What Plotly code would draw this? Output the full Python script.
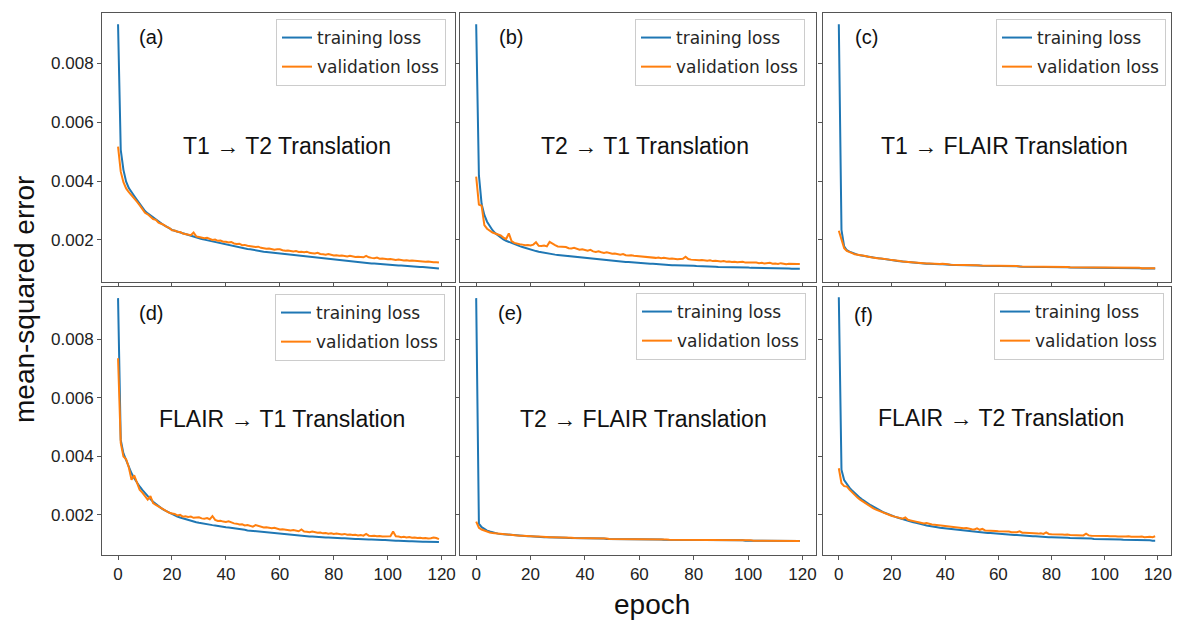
import plotly.graph_objects as go

epochs = list(range(120))

# ---- (a) T1 -> T2 ----
a_train = [
    0.00933, 0.00506, 0.00438, 0.00398, 0.00376, 0.00361, 0.00349, 0.00336, 0.00323, 0.00310,
    0.00298, 0.00290, 0.00283, 0.00275, 0.00268, 0.00262, 0.00256, 0.00250, 0.00245, 0.00239,
    0.00234, 0.00231, 0.00228, 0.00225, 0.00222, 0.00219, 0.00216, 0.00213, 0.00211, 0.00208,
    0.00206, 0.00203, 0.00201, 0.00199, 0.00197, 0.00194, 0.00192, 0.00190, 0.00188, 0.00185,
    0.00183, 0.00181, 0.00179, 0.00178, 0.00176, 0.00174, 0.00172, 0.00171, 0.00169, 0.00168,
    0.00166, 0.00165, 0.00163, 0.00162, 0.00160, 0.00159, 0.00158, 0.00156, 0.00155, 0.00154,
    0.00152, 0.00151, 0.00150, 0.00149, 0.00148, 0.00147, 0.00146, 0.00145, 0.00144, 0.00143,
    0.00142, 0.00141, 0.00140, 0.00139, 0.00138, 0.00137, 0.00136, 0.00135, 0.00134, 0.00133,
    0.00132, 0.00131, 0.00130, 0.00129, 0.00128, 0.00127, 0.00127, 0.00126, 0.00125, 0.00124,
    0.00123, 0.00122, 0.00122, 0.00121, 0.00120, 0.00120, 0.00119, 0.00118, 0.00117, 0.00117,
    0.00116, 0.00115, 0.00115, 0.00114, 0.00113, 0.00113, 0.00112, 0.00111, 0.00111, 0.00110,
    0.00109, 0.00109, 0.00108, 0.00108, 0.00107, 0.00106, 0.00106, 0.00105, 0.00104, 0.00103,
]
a_val = [
    0.00517, 0.00432, 0.00396, 0.00375, 0.00362, 0.00352, 0.00341, 0.00330, 0.00318, 0.00305,
    0.00292, 0.00287, 0.00279, 0.00271, 0.00268, 0.00259, 0.00255, 0.00251, 0.00244, 0.00241,
    0.00233, 0.00232, 0.00228, 0.00227, 0.00222, 0.00220, 0.00219, 0.00216, 0.00225, 0.00212,
    0.00210, 0.00208, 0.00206, 0.00207, 0.00203, 0.00200, 0.00201, 0.00197, 0.00198, 0.00194,
    0.00194, 0.00191, 0.00193, 0.00188, 0.00186, 0.00187, 0.00182, 0.00183, 0.00180, 0.00178,
    0.00177, 0.00176, 0.00177, 0.00173, 0.00172, 0.00170, 0.00171, 0.00168, 0.00167, 0.00168,
    0.00168, 0.00165, 0.00163, 0.00164, 0.00162, 0.00161, 0.00162, 0.00159, 0.00160, 0.00158,
    0.00160, 0.00156, 0.00155, 0.00154, 0.00156, 0.00152, 0.00151, 0.00150, 0.00152, 0.00149,
    0.00147, 0.00148, 0.00146, 0.00147, 0.00145, 0.00144, 0.00146, 0.00143, 0.00142, 0.00143,
    0.00142, 0.00141, 0.00146, 0.00141, 0.00139, 0.00138, 0.00140, 0.00136, 0.00137, 0.00135,
    0.00134, 0.00135, 0.00133, 0.00132, 0.00133, 0.00131, 0.00130, 0.00131, 0.00129, 0.00130,
    0.00129, 0.00128, 0.00129, 0.00127, 0.00126, 0.00127, 0.00125, 0.00124, 0.00124, 0.00123,
]

# ---- (b) T2 -> T1 ----
b_train = [
    0.00933, 0.00420, 0.00322, 0.00285, 0.00262, 0.00246, 0.00233, 0.00223, 0.00215, 0.00208,
    0.00202, 0.00197, 0.00193, 0.00189, 0.00186, 0.00183, 0.00179, 0.00176, 0.00173, 0.00169,
    0.00166, 0.00164, 0.00162, 0.00160, 0.00158, 0.00157, 0.00155, 0.00153, 0.00152, 0.00150,
    0.00149, 0.00148, 0.00147, 0.00146, 0.00145, 0.00144, 0.00142, 0.00141, 0.00140, 0.00139,
    0.00138, 0.00137, 0.00137, 0.00136, 0.00135, 0.00134, 0.00133, 0.00132, 0.00131, 0.00130,
    0.00129, 0.00128, 0.00128, 0.00127, 0.00126, 0.00125, 0.00125, 0.00124, 0.00123, 0.00122,
    0.00121, 0.00121, 0.00120, 0.00120, 0.00119, 0.00119, 0.00118, 0.00118, 0.00117, 0.00116,
    0.00115, 0.00115, 0.00114, 0.00114, 0.00114, 0.00113, 0.00113, 0.00113, 0.00112, 0.00112,
    0.00112, 0.00111, 0.00111, 0.00110, 0.00110, 0.00110, 0.00109, 0.00109, 0.00109, 0.00108,
    0.00108, 0.00108, 0.00108, 0.00107, 0.00107, 0.00107, 0.00107, 0.00106, 0.00106, 0.00106,
    0.00106, 0.00105, 0.00105, 0.00105, 0.00105, 0.00105, 0.00104, 0.00104, 0.00104, 0.00104,
    0.00104, 0.00103, 0.00103, 0.00103, 0.00103, 0.00103, 0.00102, 0.00102, 0.00102, 0.00102,
]
b_val = [
    0.00415, 0.00320, 0.00316, 0.00250, 0.00238, 0.00230, 0.00225, 0.00222, 0.00219, 0.00215,
    0.00208, 0.00203, 0.00222, 0.00196, 0.00190, 0.00187, 0.00185, 0.00184, 0.00182, 0.00183,
    0.00181, 0.00184, 0.00192, 0.00180, 0.00179, 0.00181, 0.00178, 0.00193, 0.00186, 0.00182,
    0.00178, 0.00177, 0.00175, 0.00176, 0.00172, 0.00171, 0.00173, 0.00169, 0.00167, 0.00168,
    0.00165, 0.00163, 0.00166, 0.00161, 0.00159, 0.00161, 0.00158, 0.00156, 0.00158, 0.00155,
    0.00153, 0.00154, 0.00151, 0.00150, 0.00152, 0.00148, 0.00147, 0.00148, 0.00146, 0.00145,
    0.00144, 0.00145, 0.00143, 0.00141, 0.00142, 0.00140, 0.00139, 0.00140, 0.00138, 0.00139,
    0.00137, 0.00136, 0.00137, 0.00135, 0.00134, 0.00135, 0.00136, 0.00143, 0.00135, 0.00133,
    0.00132, 0.00133, 0.00131, 0.00132, 0.00130, 0.00129, 0.00131, 0.00128, 0.00129, 0.00127,
    0.00127, 0.00128, 0.00126, 0.00127, 0.00125, 0.00126, 0.00124, 0.00125, 0.00126, 0.00123,
    0.00123, 0.00124, 0.00122, 0.00123, 0.00121, 0.00122, 0.00120, 0.00121, 0.00122, 0.00119,
    0.00120, 0.00118, 0.00121, 0.00119, 0.00117, 0.00119, 0.00118, 0.00117, 0.00118, 0.00118,
]

# ---- (c) T1 -> FLAIR ----
c_train = [
    0.00933, 0.00234, 0.00178, 0.00165, 0.00160, 0.00156, 0.00153, 0.00150, 0.00148, 0.00146,
    0.00144, 0.00142, 0.00141, 0.00140, 0.00139, 0.00138, 0.00136, 0.00135, 0.00134, 0.00133,
    0.00131, 0.00130, 0.00128, 0.00127, 0.00126, 0.00125, 0.00124, 0.00124, 0.00123, 0.00122,
    0.00121, 0.00121, 0.00120, 0.00119, 0.00119, 0.00118, 0.00118, 0.00117, 0.00117, 0.00117,
    0.00116, 0.00116, 0.00116, 0.00115, 0.00115, 0.00115, 0.00114, 0.00114, 0.00114, 0.00114,
    0.00113, 0.00113, 0.00113, 0.00113, 0.00112, 0.00112, 0.00112, 0.00112, 0.00112, 0.00111,
    0.00111, 0.00111, 0.00111, 0.00111, 0.00110, 0.00110, 0.00110, 0.00110, 0.00110, 0.00109,
    0.00109, 0.00109, 0.00109, 0.00109, 0.00108, 0.00108, 0.00108, 0.00108, 0.00108, 0.00108,
    0.00107, 0.00107, 0.00107, 0.00107, 0.00107, 0.00107, 0.00107, 0.00106, 0.00106, 0.00106,
    0.00106, 0.00106, 0.00106, 0.00106, 0.00106, 0.00105, 0.00105, 0.00105, 0.00105, 0.00105,
    0.00105, 0.00105, 0.00105, 0.00105, 0.00104, 0.00104, 0.00104, 0.00104, 0.00104, 0.00104,
    0.00104, 0.00104, 0.00104, 0.00104, 0.00103, 0.00103, 0.00103, 0.00103, 0.00103, 0.00103,
]
c_val = [
    0.00231, 0.00200, 0.00172, 0.00163, 0.00158, 0.00155, 0.00151, 0.00150, 0.00147, 0.00146,
    0.00145, 0.00143, 0.00141, 0.00141, 0.00139, 0.00137, 0.00137, 0.00135, 0.00135, 0.00133,
    0.00132, 0.00130, 0.00129, 0.00128, 0.00127, 0.00126, 0.00125, 0.00125, 0.00124, 0.00123,
    0.00122, 0.00122, 0.00121, 0.00120, 0.00120, 0.00119, 0.00119, 0.00118, 0.00118, 0.00119,
    0.00117, 0.00117, 0.00116, 0.00116, 0.00116, 0.00116, 0.00115, 0.00115, 0.00115, 0.00114,
    0.00114, 0.00114, 0.00114, 0.00113, 0.00113, 0.00113, 0.00113, 0.00112, 0.00112, 0.00112,
    0.00112, 0.00112, 0.00112, 0.00111, 0.00111, 0.00111, 0.00111, 0.00111, 0.00110, 0.00110,
    0.00110, 0.00110, 0.00110, 0.00110, 0.00109, 0.00109, 0.00109, 0.00109, 0.00109, 0.00109,
    0.00108, 0.00108, 0.00108, 0.00108, 0.00108, 0.00108, 0.00108, 0.00107, 0.00107, 0.00107,
    0.00107, 0.00107, 0.00107, 0.00107, 0.00107, 0.00106, 0.00106, 0.00106, 0.00106, 0.00106,
    0.00106, 0.00106, 0.00106, 0.00106, 0.00105, 0.00105, 0.00105, 0.00105, 0.00105, 0.00105,
    0.00105, 0.00105, 0.00105, 0.00105, 0.00104, 0.00104, 0.00104, 0.00104, 0.00104, 0.00104,
]

# ---- (d) FLAIR -> T1 ----
d_train = [
    0.00940, 0.00456, 0.00410, 0.00385, 0.00362, 0.00342, 0.00325, 0.00310, 0.00297, 0.00285,
    0.00274, 0.00264, 0.00254, 0.00245, 0.00237, 0.00230, 0.00223, 0.00217, 0.00212, 0.00207,
    0.00202, 0.00198, 0.00194, 0.00191, 0.00188, 0.00185, 0.00182, 0.00180, 0.00177, 0.00175,
    0.00173, 0.00171, 0.00169, 0.00168, 0.00167, 0.00165, 0.00164, 0.00162, 0.00161, 0.00160,
    0.00158, 0.00157, 0.00156, 0.00155, 0.00153, 0.00152, 0.00150, 0.00149, 0.00147, 0.00146,
    0.00145, 0.00144, 0.00143, 0.00142, 0.00141, 0.00140, 0.00139, 0.00138, 0.00137, 0.00136,
    0.00135, 0.00134, 0.00133, 0.00132, 0.00131, 0.00130, 0.00130, 0.00129, 0.00128, 0.00127,
    0.00127, 0.00126, 0.00126, 0.00125, 0.00125, 0.00124, 0.00124, 0.00123, 0.00123, 0.00122,
    0.00122, 0.00121, 0.00121, 0.00120, 0.00120, 0.00119, 0.00119, 0.00118, 0.00118, 0.00118,
    0.00117, 0.00117, 0.00116, 0.00116, 0.00116, 0.00115, 0.00115, 0.00114, 0.00114, 0.00114,
    0.00113, 0.00113, 0.00113, 0.00112, 0.00112, 0.00111, 0.00111, 0.00111, 0.00110, 0.00110,
    0.00109, 0.00109, 0.00109, 0.00108, 0.00108, 0.00108, 0.00107, 0.00107, 0.00107, 0.00107,
]
d_val = [
    0.00735, 0.00446, 0.00399, 0.00390, 0.00362, 0.00320, 0.00335, 0.00308, 0.00286, 0.00276,
    0.00265, 0.00252, 0.00264, 0.00240, 0.00234, 0.00228, 0.00224, 0.00218, 0.00210, 0.00207,
    0.00205, 0.00203, 0.00198, 0.00200, 0.00194, 0.00195, 0.00193, 0.00194, 0.00190, 0.00191,
    0.00192, 0.00188, 0.00187, 0.00189, 0.00185, 0.00196, 0.00183, 0.00179, 0.00180, 0.00177,
    0.00176, 0.00178, 0.00174, 0.00171, 0.00170, 0.00167, 0.00168, 0.00164, 0.00165, 0.00163,
    0.00160, 0.00165, 0.00162, 0.00159, 0.00157, 0.00158, 0.00155, 0.00154, 0.00156, 0.00152,
    0.00150, 0.00151, 0.00149, 0.00148, 0.00147, 0.00148, 0.00145, 0.00144, 0.00150, 0.00143,
    0.00142, 0.00141, 0.00143, 0.00140, 0.00139, 0.00140, 0.00137, 0.00138, 0.00136, 0.00137,
    0.00135, 0.00136, 0.00134, 0.00133, 0.00135, 0.00132, 0.00133, 0.00131, 0.00132, 0.00130,
    0.00131, 0.00129, 0.00135, 0.00129, 0.00128, 0.00129, 0.00127, 0.00128, 0.00126, 0.00127,
    0.00126, 0.00127, 0.00143, 0.00127, 0.00126, 0.00124, 0.00125, 0.00123, 0.00124, 0.00122,
    0.00123, 0.00121, 0.00122, 0.00120, 0.00121, 0.00119, 0.00120, 0.00123, 0.00121, 0.00117,
]

# ---- (e) T2 -> FLAIR ----
e_train = [
    0.00940, 0.00170, 0.00158, 0.00151, 0.00146, 0.00143, 0.00140, 0.00138, 0.00136, 0.00135,
    0.00134, 0.00133, 0.00132, 0.00131, 0.00130, 0.00130, 0.00129, 0.00128, 0.00128, 0.00127,
    0.00127, 0.00126, 0.00126, 0.00125, 0.00125, 0.00124, 0.00124, 0.00124, 0.00123, 0.00123,
    0.00123, 0.00122, 0.00122, 0.00122, 0.00121, 0.00121, 0.00121, 0.00121, 0.00120, 0.00120,
    0.00120, 0.00120, 0.00120, 0.00119, 0.00119, 0.00119, 0.00119, 0.00119, 0.00118, 0.00118,
    0.00118, 0.00118, 0.00118, 0.00118, 0.00117, 0.00117, 0.00117, 0.00117, 0.00117, 0.00117,
    0.00117, 0.00117, 0.00116, 0.00116, 0.00116, 0.00116, 0.00116, 0.00116, 0.00116, 0.00115,
    0.00115, 0.00115, 0.00115, 0.00115, 0.00115, 0.00115, 0.00115, 0.00115, 0.00114, 0.00114,
    0.00114, 0.00114, 0.00114, 0.00114, 0.00114, 0.00114, 0.00114, 0.00114, 0.00113, 0.00113,
    0.00113, 0.00113, 0.00113, 0.00113, 0.00113, 0.00113, 0.00113, 0.00113, 0.00113, 0.00112,
    0.00112, 0.00112, 0.00112, 0.00112, 0.00112, 0.00112, 0.00112, 0.00112, 0.00112, 0.00112,
    0.00111, 0.00111, 0.00111, 0.00111, 0.00111, 0.00111, 0.00111, 0.00111, 0.00111, 0.00111,
]
e_val = [
    0.00177, 0.00156, 0.00150, 0.00146, 0.00142, 0.00140, 0.00138, 0.00137, 0.00135, 0.00134,
    0.00134, 0.00133, 0.00132, 0.00131, 0.00131, 0.00130, 0.00129, 0.00129, 0.00128, 0.00128,
    0.00127, 0.00127, 0.00126, 0.00126, 0.00125, 0.00125, 0.00125, 0.00124, 0.00124, 0.00124,
    0.00123, 0.00123, 0.00123, 0.00122, 0.00122, 0.00122, 0.00121, 0.00121, 0.00121, 0.00121,
    0.00120, 0.00120, 0.00120, 0.00120, 0.00119, 0.00119, 0.00119, 0.00119, 0.00119, 0.00118,
    0.00118, 0.00118, 0.00118, 0.00118, 0.00118, 0.00117, 0.00117, 0.00117, 0.00117, 0.00117,
    0.00117, 0.00117, 0.00117, 0.00116, 0.00116, 0.00116, 0.00116, 0.00116, 0.00116, 0.00116,
    0.00116, 0.00115, 0.00115, 0.00115, 0.00115, 0.00115, 0.00115, 0.00115, 0.00115, 0.00115,
    0.00114, 0.00114, 0.00114, 0.00114, 0.00114, 0.00114, 0.00114, 0.00114, 0.00114, 0.00114,
    0.00114, 0.00113, 0.00113, 0.00113, 0.00113, 0.00113, 0.00113, 0.00113, 0.00113, 0.00113,
    0.00113, 0.00113, 0.00112, 0.00112, 0.00112, 0.00112, 0.00112, 0.00112, 0.00112, 0.00112,
    0.00112, 0.00112, 0.00112, 0.00112, 0.00112, 0.00111, 0.00111, 0.00111, 0.00111, 0.00111,
]

# ---- (f) FLAIR -> T2 ----
f_train = [
    0.00943, 0.00354, 0.00319, 0.00305, 0.00293, 0.00283, 0.00274, 0.00265, 0.00258, 0.00251,
    0.00244, 0.00238, 0.00233, 0.00228, 0.00222, 0.00217, 0.00213, 0.00208, 0.00204, 0.00200,
    0.00197, 0.00194, 0.00191, 0.00188, 0.00185, 0.00182, 0.00180, 0.00177, 0.00175, 0.00173,
    0.00170, 0.00168, 0.00166, 0.00164, 0.00163, 0.00161, 0.00159, 0.00158, 0.00156, 0.00155,
    0.00154, 0.00152, 0.00151, 0.00150, 0.00149, 0.00147, 0.00146, 0.00145, 0.00144, 0.00143,
    0.00143, 0.00142, 0.00141, 0.00140, 0.00140, 0.00139, 0.00138, 0.00138, 0.00137, 0.00136,
    0.00135, 0.00134, 0.00134, 0.00133, 0.00132, 0.00132, 0.00131, 0.00131, 0.00130, 0.00129,
    0.00129, 0.00128, 0.00128, 0.00127, 0.00127, 0.00126, 0.00126, 0.00125, 0.00125, 0.00124,
    0.00124, 0.00124, 0.00123, 0.00123, 0.00122, 0.00122, 0.00122, 0.00121, 0.00121, 0.00121,
    0.00120, 0.00120, 0.00120, 0.00119, 0.00119, 0.00119, 0.00118, 0.00118, 0.00118, 0.00117,
    0.00117, 0.00117, 0.00117, 0.00116, 0.00116, 0.00116, 0.00116, 0.00115, 0.00115, 0.00115,
    0.00115, 0.00114, 0.00114, 0.00114, 0.00114, 0.00113, 0.00113, 0.00113, 0.00112, 0.00112,
]
f_val = [
    0.00359, 0.00308, 0.00298, 0.00297, 0.00286, 0.00276, 0.00268, 0.00259, 0.00252, 0.00246,
    0.00238, 0.00233, 0.00228, 0.00222, 0.00218, 0.00214, 0.00210, 0.00206, 0.00203, 0.00199,
    0.00196, 0.00194, 0.00191, 0.00189, 0.00187, 0.00191, 0.00183, 0.00181, 0.00178, 0.00177,
    0.00175, 0.00173, 0.00171, 0.00172, 0.00169, 0.00167, 0.00166, 0.00165, 0.00163, 0.00162,
    0.00161, 0.00160, 0.00158, 0.00159, 0.00157, 0.00156, 0.00155, 0.00154, 0.00155, 0.00152,
    0.00151, 0.00150, 0.00154, 0.00149, 0.00152, 0.00147, 0.00147, 0.00146, 0.00145, 0.00145,
    0.00144, 0.00144, 0.00143, 0.00142, 0.00143, 0.00141, 0.00140, 0.00141, 0.00144, 0.00139,
    0.00139, 0.00138, 0.00139, 0.00137, 0.00137, 0.00136, 0.00137, 0.00135, 0.00140, 0.00135,
    0.00134, 0.00134, 0.00135, 0.00133, 0.00133, 0.00132, 0.00133, 0.00131, 0.00131, 0.00132,
    0.00130, 0.00131, 0.00130, 0.00136, 0.00130, 0.00129, 0.00129, 0.00130, 0.00128, 0.00128,
    0.00128, 0.00128, 0.00127, 0.00128, 0.00127, 0.00126, 0.00127, 0.00126, 0.00126, 0.00127,
    0.00125, 0.00126, 0.00125, 0.00125, 0.00126, 0.00124, 0.00125, 0.00125, 0.00124, 0.00127,
]

panel_labels = ["(a)", "(b)", "(c)", "(d)", "(e)", "(f)"]
panel_titles = [
    "T1 \u2192 T2 Translation", "T2 \u2192 T1 Translation", "T1 \u2192 FLAIR Translation",
    "FLAIR \u2192 T1 Translation", "T2 \u2192 FLAIR Translation", "FLAIR \u2192 T2 Translation",
]
train_series = [a_train, b_train, c_train, d_train, e_train, f_train]
val_series = [a_val, b_val, c_val, d_val, e_val, f_val]
x_ticks = [0, 20, 40, 60, 80, 100, 120]
y_ticks = [0.002, 0.004, 0.006, 0.008]

for s in train_series + val_series:
    assert len(s) == 120, len(s)

W, H = 1179, 623
BLUE, ORANGE = "#1f77b4", "#ff7f0e"
FRAME = "#555555"

# panel geometry in pixels (left, right, top, bottom)
cols = [(102, 455), (460, 816), (823, 1171)]
rows = [(13, 282), (287, 555)]
yranges = [[0.00057, 0.00971], [0.00063, 0.00978]]

# annotation positions relative to each panel (label x, label y, title x, title y)
label_pos = [(0.098, 0.912), (0.103, 0.912), (0.087, 0.912),
             (0.098, 0.902), (0.100, 0.902), (0.083, 0.895)]
title_pos = [(0.523, 0.507), (0.519, 0.507), (0.522, 0.507),
             (0.511, 0.506), (0.516, 0.506), (0.512, 0.510)]
legend_px = [(446, 19), (805, 19), (1166, 19), (445, 294), (806, 293), (1164, 293)]

fig = go.Figure()
annotations = []
layout = {}

for i in range(6):
    r, c = divmod(i, 3)
    n = i + 1
    xa = "xaxis" if n == 1 else f"xaxis{n}"
    ya = "yaxis" if n == 1 else f"yaxis{n}"
    xref = "x" if n == 1 else f"x{n}"
    yref = "y" if n == 1 else f"y{n}"
    lg = "legend" if n == 1 else f"legend{n}"
    l, rr = cols[c]
    t, b = rows[r]
    layout[xa] = dict(
        domain=[l / W, rr / W], anchor=yref, range=[-5.95, 124.95],
        tickvals=x_ticks, showticklabels=(r == 1), ticks="outside", ticklen=4,
        tickcolor=FRAME, showline=True, linecolor=FRAME, linewidth=1, mirror=True,
        showgrid=False, zeroline=False,
        tickfont=dict(family="Liberation Sans, Arial", size=17, color="#222"),
    )
    layout[ya] = dict(
        domain=[(H - b) / H, (H - t) / H], anchor=xref, range=yranges[r],
        tickvals=y_ticks, tickformat=".3f", showticklabels=(c == 0), ticks="outside",
        ticklen=4, tickcolor=FRAME, showline=True, linecolor=FRAME, linewidth=1,
        mirror=True, showgrid=False, zeroline=False,
        tickfont=dict(family="Liberation Sans, Arial", size=17, color="#222"),
    )
    fig.add_trace(go.Scatter(
        x=epochs, y=train_series[i], mode="lines", name="training loss",
        line=dict(color=BLUE, width=2), xaxis=xref, yaxis=yref, legend=lg,
        legendgroup=f"t{n}",
    ))
    fig.add_trace(go.Scatter(
        x=epochs, y=val_series[i], mode="lines", name="validation loss",
        line=dict(color=ORANGE, width=2), xaxis=xref, yaxis=yref, legend=lg,
        legendgroup=f"v{n}",
    ))
    lx, ly = legend_px[i]
    layout[lg] = dict(
        x=lx / W, y=(H - ly) / H, xanchor="right", yanchor="top",
        bgcolor="rgba(255,255,255,0.9)", bordercolor="#cccccc", borderwidth=1,
        font=dict(family="DejaVu Sans", size=17, color="#262626"),
        tracegroupgap=4, traceorder="grouped",
    )
    annotations.append(dict(
        text=panel_labels[i], xref=f"{xref} domain", yref=f"{yref} domain",
        x=label_pos[i][0], y=label_pos[i][1], xanchor="left", yanchor="middle",
        showarrow=False, font=dict(family="Liberation Sans, Arial", size=20, color="#111"),
    ))
    annotations.append(dict(
        text=panel_titles[i], xref=f"{xref} domain", yref=f"{yref} domain",
        x=title_pos[i][0], y=title_pos[i][1], xanchor="center", yanchor="middle",
        showarrow=False, font=dict(family="Liberation Sans, Arial", size=23, color="#111"),
    ))

annotations.append(dict(
    text="mean-squared error", xref="paper", yref="paper", x=24 / W, y=(H - 300) / H,
    xanchor="center", yanchor="middle", textangle=-90, showarrow=False,
    font=dict(family="Liberation Sans, Arial", size=28, color="#111"),
))
annotations.append(dict(
    text="epoch", xref="paper", yref="paper", x=652 / W, y=(H - 604) / H,
    xanchor="center", yanchor="middle", showarrow=False,
    font=dict(family="Liberation Sans, Arial", size=28, color="#111"),
))

fig.update_layout(
    width=W, height=H, margin=dict(l=0, r=0, t=0, b=0),
    paper_bgcolor="white", plot_bgcolor="white",
    annotations=annotations, showlegend=True, **layout,
)

fig.write_html(
    "out.html",
    config={"displayModeBar": False},
    post_script="document.body.style.margin='0';document.body.style.overflow='hidden';",
)
